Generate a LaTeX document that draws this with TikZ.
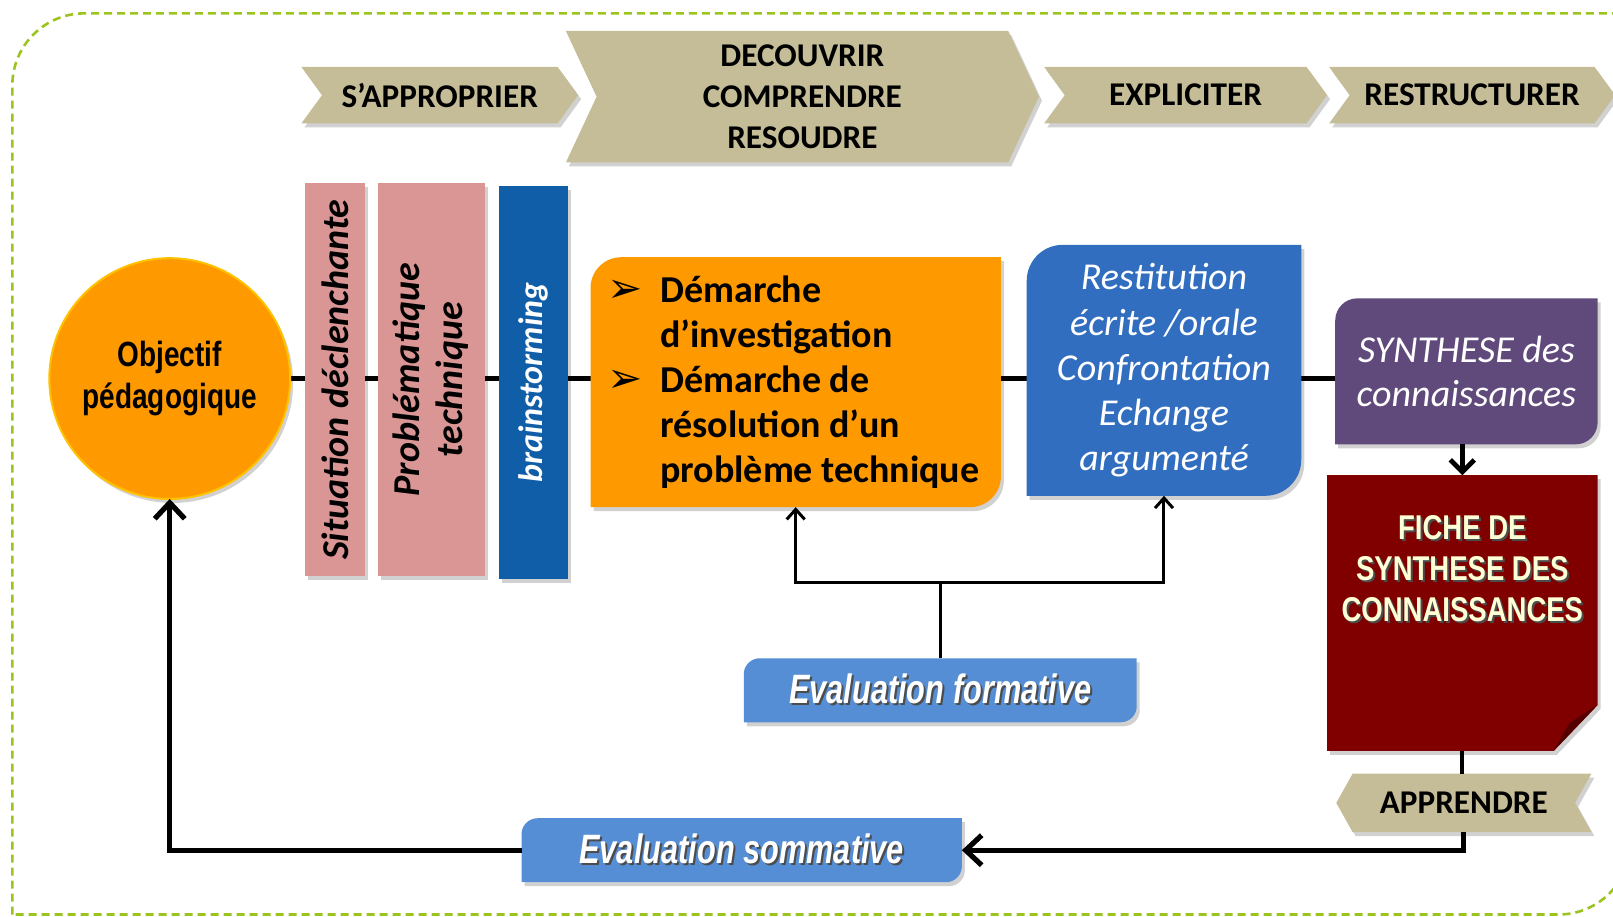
\documentclass[tikz,border=0pt]{standalone}
\usepackage{fontspec}
\setmainfont{Carlito}
\newfontfamily\narrowfont[FakeStretch=0.8]{Liberation Sans}
\newfontfamily\condfont[FakeStretch=0.75]{Liberation Sans}
\newfontfamily\symfont{DejaVu Sans}
\usepackage{tikz}
\usetikzlibrary{arrows.meta,backgrounds}

\definecolor{khaki}{RGB}{196,189,151}
\definecolor{rosebar}{RGB}{217,150,148}
\definecolor{darkblue}{RGB}{16,94,168}
\definecolor{orangebox}{RGB}{255,153,0}
\definecolor{midblue}{RGB}{50,110,192}
\definecolor{purplebox}{RGB}{96,74,123}
\definecolor{maroonbox}{RGB}{128,0,0}
\definecolor{lightblue}{RGB}{85,142,213}
\definecolor{bordergreen}{RGB}{155,196,30}
\definecolor{cream}{RGB}{255,255,214}

\newcommand\bul{\makebox[24.2pt][l]{\hspace*{-2pt}\symfont\fontsize{21}{21}\selectfont ➢}}
\newcommand\ind{\hspace*{24.2pt}}
\newcommand\shadowed[1]{\makebox[0pt][l]{\textcolor{black!70}{\hspace{1pt}\raisebox{-1pt}{#1}}}#1}

\newcommand\diagfill[3]{\fill[#3,shd] (#1.south west) -- ([yshift=-#2]#1.north west)
    arc[start angle=180,end angle=90,radius=#2] -- (#1.north east)
    -- ([yshift=#2]#1.south east) arc[start angle=0,end angle=-90,radius=#2] -- cycle;}
\newcommand\chevfill[2]{\fill[khaki,shd] (#1.north west) -- ([xshift=-#2]#1.north east) -- (#1.east)
    -- ([xshift=-#2]#1.south east) -- (#1.south west) -- ([xshift=#2]#1.west) -- cycle;}
\newcommand\revchevfill[2]{\fill[khaki,shd] (#1.west) -- ([xshift=#2]#1.north west) -- (#1.north east)
    -- ([xshift=-#2]#1.east) -- (#1.south east) -- ([xshift=#2]#1.south west) -- cycle;}

\begin{document}
\begin{tikzpicture}
  [x=0.5144pt,y=0.5144pt,
   every node/.style={inner sep=0pt,outer sep=0pt},
   shd/.style={preaction={fill=black,opacity=0.18,transform canvas={shift={(1.5pt,-2pt)}}}},
   chev/.style={minimum height=28.3pt,align=center,font=\bfseries\fontsize{16.6}{20.6}\selectfont},
   bar/.style={rotate=90,minimum width=196.5pt,align=center,shd,
     font=\bfseries\itshape\fontsize{19}{21.6}\selectfont},
   evalbox/.style={minimum height=32pt,text=white,
     font=\condfont\bfseries\itshape\fontsize{20.5}{24}\selectfont},
   link/.style={line width=2.6pt},
   thinlink/.style={line width=1.5pt},
   bigtip/.style={-{Straight Barb[length=8pt,width=15pt]}},
   midtip/.style={-{Straight Barb[length=6pt,width=12pt]}},
   smalltip/.style={-{Straight Barb[length=5pt,width=9pt]}}]

  \useasboundingbox (0,0) rectangle (1568,-891);
  \draw[bordergreen,line width=1.3pt,dash pattern=on 4pt off 2.5pt]
    (12,-889) -- (12,-83) arc[start angle=180,end angle=90,radius=70] -- (1585,-13)
    -- (1585,-819) arc[start angle=0,end angle=-90,radius=70] -- cycle;

  \node[chev,minimum width=138.4pt] (appr) at (427.5,-92.5) {S’APPROPRIER};
  \node[chev,minimum width=236.6pt,minimum height=65.8pt] (dec) at (780,-94)
    {DECOUVRIR\\COMPRENDRE\\RESOUDRE};
  \node[chev,minimum width=141.5pt] (expl) at (1152.5,-92.5) {EXPLICITER};
  \node[chev,minimum width=143pt] (restr) at (1431,-92.5) {RESTRUCTURER};

  \node[circle,fill=orangebox,draw=orangebox!60!yellow,line width=1pt,shd,minimum size=120.4pt,
    align=center,font=\narrowfont\bfseries\fontsize{17.5}{20.6}\selectfont] (obj) at (165,-368)
    {Objectif\\pédagogique};

  \node[bar,fill=rosebar,minimum height=30.3pt] (sit) at (325.5,-369) {Situation déclenchante};
  \node[bar,fill=rosebar,minimum height=53.5pt] (prob) at (419,-369) {Problématique\\technique};
  \node[bar,fill=darkblue,minimum height=34.5pt,text=white,
    font=\bfseries\itshape\fontsize{17}{20}\selectfont] (brain) at (518.5,-372) {brainstorming};

  \node[minimum width=205.2pt,minimum height=125pt,align=left,
    font=\bfseries\fontsize{19}{22.6}\selectfont] (dem) at (773.5,-371.5)
    {\bul Démarche\\\ind d’investigation\\\bul Démarche de\\\ind résolution d’un\\\ind problème technique};
  \node[minimum width=137.3pt,minimum height=125.5pt,align=center,text=white,
    font=\itshape\fontsize{19}{22.6}\selectfont] (rest) at (1131.5,-360)
    {Restitution\\écrite /orale\\Confrontation\\Echange\\argumenté};
  \node[minimum width=131.2pt,minimum height=73pt,align=center,text=white,
    font=\itshape\fontsize{19}{22.1}\selectfont] (syn) at (1425.5,-361) {SYNTHESE des\\connaissances};

  \node[minimum width=135.3pt,minimum height=137.9pt] (fiche) at (1421.5,-596) {};
  \node[align=center,text=cream,font=\narrowfont\bfseries\fontsize{17.2}{20.6}\selectfont]
    (fichetxt) at (1421.5,-553.5)
    {\shadowed{FICHE DE}\\\shadowed{SYNTHESE DES}\\\shadowed{CONNAISSANCES}};
  \node[chev,minimum width=127.6pt,minimum height=29.3pt] (appre) at (1423,-780.5) {APPRENDRE};

  \node[evalbox,minimum width=196.5pt] (efor) at (914,-671) {\shadowed{Evaluation formative}};
  \node[evalbox,minimum width=220.2pt] (esom) at (721,-826.5) {\shadowed{Evaluation sommative}};
  \coordinate (fork) at (914,-566);

  \begin{pgfonlayer}{background}
    \draw[link] (obj.east) -- (obj.east -| syn.west);
    \diagfill{dem}{15.4pt}{orangebox}
    \diagfill{rest}{18pt}{midblue}
    \diagfill{syn}{11pt}{purplebox}
    \diagfill{efor}{8pt}{lightblue}
    \diagfill{esom}{8pt}{lightblue}
    \foreach \n/\d in {appr/10.3pt,dec/15.4pt,expl/10.3pt,restr/10.3pt}
      \chevfill{\n}{\d};
    \revchevfill{appre}{8.2pt}
    \fill[maroonbox,shd] (fiche.north west) -- (fiche.north east) -- ([yshift=23pt]fiche.south east)
      -- ([xshift=-22pt]fiche.south east) -- (fiche.south west) -- cycle;
    \fill[maroonbox!65!black] ([yshift=23pt]fiche.south east) -- ([xshift=-22pt]fiche.south east)
      -- ([xshift=-14pt,yshift=14pt]fiche.south east) -- cycle;
  \end{pgfonlayer}

  \draw[line width=2.4pt,midtip] (fiche.north |- syn.south) -- (fiche.north);
  \draw[line width=2pt] (fiche.south) -- (fiche.south |- appre.north);
  \draw[link,bigtip] (appre.south) |- (esom.east);
  \draw[link,bigtip] (esom.west) -| (obj.south);
  \draw[thinlink] (efor.north) -- (fork);
  \foreach \to in {dem,rest}
    \draw[thinlink,smalltip] (fork) -| (\to.south);

\end{tikzpicture}
\end{document}
